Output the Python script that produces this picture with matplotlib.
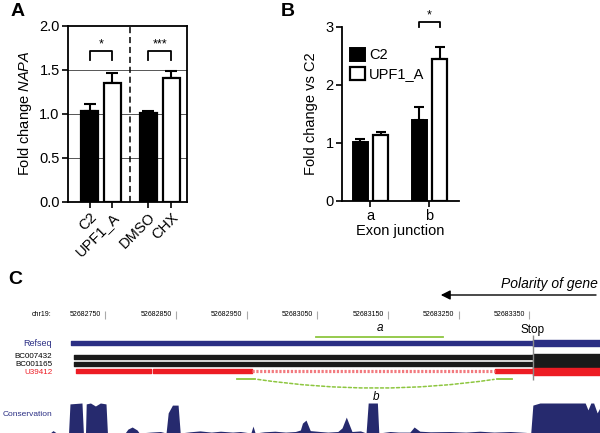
import matplotlib
matplotlib.use("Agg")
import matplotlib.pyplot as plt
import matplotlib.transforms as mtransforms
from matplotlib.patches import FancyArrowPatch

plt.rcParams['font.family'] = ['Liberation Sans', 'DejaVu Sans']
plt.rcParams['mathtext.fontset'] = 'custom'
plt.rcParams['mathtext.it'] = 'Liberation Sans:italic'
plt.rcParams['mathtext.rm'] = 'Liberation Sans'

# ---- panel A data ----
a_labels = ["C2", "UPF1_A", "DMSO", "CHX"]
a_values = [1.03, 1.35, 1.01, 1.41]
a_errors = [0.08, 0.11, 0.02, 0.08]
a_fill = ["black", "white", "black", "white"]
a_sig = [(0, 1, "*"), (2, 3, "***")]

# ---- panel B data ----
b_junctions = ["a", "b"]
b_c2 = [1.02, 1.40]
b_c2_err = [0.04, 0.21]
b_upf1 = [1.14, 2.44]
b_upf1_err = [0.04, 0.22]

# ---- panel C data (genomic, chr19) ----
chr_ticks = [52682750, 52682850, 52682950, 52683050, 52683150, 52683250, 52683350]
stop_pos = 52683355
view_start, view_end = 52682601, 52683450
refseq_start = 52682702
bc_start = 52682706
u39_blocks = [(52682709, 52682815), (52682817, 52682958), (52683302, 52683355)]
u39_gap = (52682958, 52683302)
amplicon_a = (52683048, 52683228)
amplicon_b1 = (52682937, 52682962)
amplicon_b2 = (52683304, 52683326)
cons_pos = [52682672, 52682676, 52682681, 52682698, 52682700, 52682717, 52682719,
            52682722, 52682723, 52682729, 52682736, 52682743, 52682751, 52682753,
            52682778, 52682782, 52682788, 52682795, 52682798, 52682814, 52682828,
            52682836, 52682839, 52682845, 52682853, 52682856, 52682870, 52682884,
            52682900, 52682913, 52682930, 52682941, 52682956, 52682959, 52682962,
            52682975, 52682990, 52683005, 52683019, 52683026, 52683029, 52683034,
            52683040, 52683054, 52683065, 52683079, 52683085, 52683091, 52683099,
            52683111, 52683119, 52683122, 52683135, 52683137, 52683153, 52683165,
            52683181, 52683187, 52683195, 52683210, 52683238, 52683260, 52683280,
            52683300, 52683323, 52683345, 52683352, 52683355, 52683365, 52683429,
            52683433, 52683437, 52683441, 52683446, 52683450]
cons_score = [0, 0.08, 0, 0, 0.97, 1.0, 0,
              0, 0.97, 1.0, 0.9, 1.0, 0.97, 0,
              0, 0.13, 0.2, 0.1, 0, 0.03, 0.05,
              0, 0.67, 0.93, 0.93, 0, 0.04, 0.07,
              0.03, 0.06, 0.03, 0.05, 0, 0.23, 0,
              0.04, 0.06, 0.03, 0.05, 0.1, 0.33, 0.43,
              0.08, 0.05, 0.03, 0.05, 0.17, 0.53, 0.05,
              0.07, 0, 1.0, 1.0, 0, 0.05, 0.03,
              0.03, 0.2, 0.06, 0.04, 0.05, 0.03, 0.06,
              0.03, 0.05, 0.02, 0, 0.93, 1.0, 1.0,
              0.77, 1.0, 1.0, 0.67, 0.85]

navy = "#2b2f84"
cons_navy = "#262a6e"
red = "#ed1c24"
green = "#8dc63f"

fig = plt.figure(figsize=(6, 4.33), dpi=100)

# ================= Panel A =================
axa = fig.add_axes([68 / 600, 1 - 201.7 / 433, 119 / 600, 176 / 433])
xa = [0, 1, 2.565, 3.565]
for y in [0.5, 1.0, 1.5]:
    axa.axhline(y, color="#555555", lw=0.7, zorder=0)
axa.axvline(1.78, color="black", lw=1.1, ls=(0, (4, 2.5)))
axa.bar(xa, a_values, width=0.7, color=a_fill, edgecolor="black", linewidth=1.6, zorder=3)
axa.errorbar(xa, a_values, yerr=[[0] * 4, a_errors], fmt="none", ecolor="black",
             elinewidth=1.5, capsize=4, capthick=1.5, zorder=2)
for i, j, s in a_sig:
    axa.plot([xa[i], xa[i], xa[j], xa[j]], [1.61, 1.71, 1.71, 1.61], color="black", lw=1.3)
    axa.text((xa[i] + xa[j]) / 2, 1.72, s, ha="center", va="bottom", fontsize=9)
axa.set_xlim(-0.935, 4.24)
axa.set_ylim(0, 2.0)
axa.set_yticks([0, 0.5, 1.0, 1.5, 2.0])
axa.set_yticklabels(["0.0", "0.5", "1.0", "1.5", "2.0"])
axa.set_xticks(xa)
axa.set_xticklabels(a_labels, rotation=45, ha="right", rotation_mode="anchor")
axa.tick_params(labelsize=10.5, width=1.2, length=4, pad=2)
for sp in axa.spines.values():
    sp.set_linewidth(1.3)
axa.set_ylabel("Fold change $\\it{NAPA}$", fontsize=10.5, labelpad=4)

# ================= Panel B =================
axb = fig.add_axes([342 / 600, 1 - 200.7 / 433, 117 / 600, 173.7 / 433])
xb = [0, 1]
off = 0.17
w = 0.26
axb.bar([x - off for x in xb], b_c2, width=w, color="black", edgecolor="black",
        linewidth=1.4, label="C2", zorder=3)
axb.bar([x + off for x in xb], b_upf1, width=w, color="white", edgecolor="black",
        linewidth=1.6, label="UPF1_A", zorder=3)
axb.errorbar([x - off for x in xb], b_c2, yerr=[[0, 0], b_c2_err], fmt="none",
             ecolor="black", elinewidth=1.5, capsize=3.5, capthick=1.5, zorder=2)
axb.errorbar([x + off for x in xb], b_upf1, yerr=[[0, 0], b_upf1_err], fmt="none",
             ecolor="black", elinewidth=1.5, capsize=3.5, capthick=1.5, zorder=2)
axb.plot([1 - off, 1 - off, 1 + off, 1 + off], [3.0, 3.09, 3.09, 3.0], color="black",
         lw=1.3, clip_on=False)
axb.text(1, 3.1, "*", ha="center", va="bottom", fontsize=9)
axb.set_xlim(-0.483, 1.5)
axb.set_ylim(0, 3)
axb.set_yticks([0, 1, 2, 3])
axb.set_xticks(xb)
axb.set_xticklabels(b_junctions)
axb.spines["top"].set_visible(False)
axb.spines["right"].set_visible(False)
for sp in ["left", "bottom"]:
    axb.spines[sp].set_linewidth(1.3)
axb.tick_params(labelsize=10.5, width=1.2, length=4, pad=2)
axb.set_ylabel("Fold change vs C2", fontsize=10.5, labelpad=5)
axb.set_xlabel("Exon junction", fontsize=10.5, labelpad=1)
axb.legend(loc="upper left", bbox_to_anchor=(0.07, 0.88), frameon=False, fontsize=10.5,
           handlelength=1.0, handleheight=1.0, handletextpad=0.3, labelspacing=0.3,
           borderpad=0, borderaxespad=0)

# panel letters
fig.text(11 / 600, 1 - 11 / 433, "A", fontsize=14, fontweight="bold", va="center")
fig.text(281 / 600, 1 - 11 / 433, "B", fontsize=14, fontweight="bold", va="center")
fig.text(8 / 600, 1 - 279 / 433, "C", fontsize=14, fontweight="bold", va="center")

# ================= Panel C =================
axc = fig.add_axes([0, 0, 1, 153 / 433])
axc.set_xlim(view_start, view_end)
axc.set_ylim(433, 280)
axc.axis("off")
lab = mtransforms.blended_transform_factory(axc.transAxes, axc.transData)
small = dict(fontsize=5)

axc.text(0.085, 315, "chr19:", transform=lab, ha="right", va="center", **small)
for t in chr_ticks:
    axc.annotate(str(t), (t, 315), xytext=(-3, 0), textcoords="offset points",
                 ha="right", va="center", **small)
    axc.vlines(t, 311, 319, color="#aaaaaa", lw=0.8)

# gene direction arrow
axc.annotate("", xy=(0.73, 295), xytext=(0.998, 295), xycoords=lab, textcoords=lab,
             arrowprops=dict(arrowstyle="-|>", color="black", lw=1.0, mutation_scale=14))
axc.text(0.997, 284, "Polarity of gene", transform=lab, ha="right", va="center",
         fontsize=10, style="italic")

# Refseq
axc.broken_barh([(refseq_start, stop_pos - refseq_start)], (341, 4), color=navy)
axc.broken_barh([(stop_pos, view_end - stop_pos + 5)], (340, 6), color=navy)
# mRNAs
for yc in [357, 364.3]:
    axc.broken_barh([(bc_start, stop_pos - bc_start)], (yc - 2, 4), color="#1a1a1a")
    axc.broken_barh([(stop_pos, view_end - stop_pos + 5)], (yc - 3.2, 6.4), color="#1a1a1a")
axc.broken_barh([(s, e - s) for s, e in u39_blocks], (369.3, 4), color=red)
axc.broken_barh([(stop_pos, view_end - stop_pos + 5)], (368.3, 6.7), color=red)
axc.plot(u39_gap, [371.3, 371.3], color="#f27a7f", lw=2.3, ls=(0, (0.7, 0.5)))

axc.text(0.087, 343, "Refseq", transform=lab, ha="right", va="center", color=navy,
         fontsize=6.5)
axc.text(0.087, 356.5, "BC007432", transform=lab, ha="right", va="center", color="black",
         fontsize=5.8)
axc.text(0.087, 364.5, "BC001165", transform=lab, ha="right", va="center", color="black",
         fontsize=5.8)
axc.text(0.087, 372, "U39412", transform=lab, ha="right", va="center", color=red,
         fontsize=5.8)
axc.text(0.087, 414, "Conservation", transform=lab, ha="right", va="center", color=navy,
         fontsize=6)

# stop codon
axc.vlines(stop_pos, 335, 380, color="#8a8a8a", lw=1.0)
axc.text(stop_pos, 330, "Stop", ha="center", va="center", fontsize=8.5)

# amplicons
axc.plot(amplicon_a, [336.5, 336.5], color=green, lw=1.3)
axc.text(sum(amplicon_a) / 2, 328, "a", ha="center", va="center", fontsize=8.5, style="italic")
axc.plot(amplicon_b1, [379, 379], color=green, lw=1.3)
axc.plot(amplicon_b2, [379, 379], color=green, lw=1.3)
curve = FancyArrowPatch((amplicon_b1[1], 379), (amplicon_b2[0], 379),
                        connectionstyle="arc3,rad=0.075", arrowstyle="-", color=green,
                        lw=1.1, ls=(0, (2, 1.5)))
axc.add_patch(curve)
axc.text((amplicon_b1[1] + amplicon_b2[0]) / 2, 396.5, "b", ha="center", va="center",
         fontsize=8.5, style="italic")

# conservation track
axk = fig.add_axes([0, 0, 1, 30 / 433])
axk.set_xlim(view_start, view_end)
axk.set_ylim(0, 1)
axk.axis("off")
axk.fill_between(cons_pos, cons_score, 0, color=cons_navy, lw=0)

fig.savefig("out.png", dpi=100)
